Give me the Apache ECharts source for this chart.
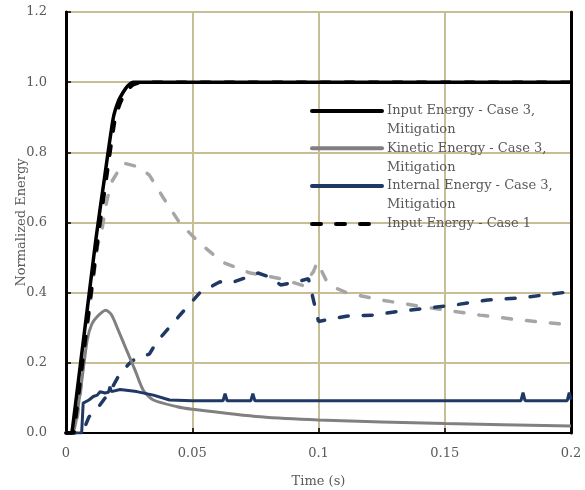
<!DOCTYPE html>
<html><head><meta charset="utf-8">
<script src="https://cdn.jsdelivr.net/npm/echarts@6/dist/echarts.min.js"></script>
<style>html,body{margin:0;padding:0;background:#fff}#c{width:585px;height:490px}</style>
</head><body><div id="c"></div><script>
// ---- data (time in s, normalized energy) ----
const inputCase3T = [0, 0.002, 0.0025, 0.0118, 0.0154, 0.0187, 0.0207, 0.0227, 0.0245, 0.0267, 0.2];
const inputCase3E = [0, 0, 0.009, 0.55, 0.735, 0.897, 0.945, 0.972, 0.99, 1.0, 1.0];

const inputCase1T = [0, 0.003, 0.0033, 0.0126, 0.0162, 0.0195, 0.0215, 0.0237, 0.0265, 0.03, 0.2];
const inputCase1E = [0, 0, 0.01, 0.55, 0.735, 0.897, 0.94, 0.972, 0.992, 1.0, 1.0];

const kineticCase3T = [0, 0.0025, 0.0055, 0.0084, 0.0102, 0.0124, 0.0157, 0.018, 0.0207, 0.024, 0.0273, 0.0306, 0.0346, 0.044, 0.05, 0.077, 0.1, 0.15, 0.2];
const kineticCase3E = [0, 0, 0.11, 0.265, 0.31, 0.332, 0.35, 0.337, 0.293, 0.236, 0.18, 0.122, 0.094, 0.075, 0.068, 0.046, 0.037, 0.027, 0.02];

const internalCase3T = [0, 0.0062, 0.0068, 0.0075, 0.0091, 0.0108, 0.0124, 0.0135, 0.0154, 0.0168, 0.0174, 0.018, 0.0214, 0.028, 0.0346, 0.041, 0.05, 0.0622, 0.063, 0.0638, 0.0732, 0.074, 0.0748, 0.1, 0.15, 0.1802, 0.181, 0.1818, 0.1985, 0.1993, 0.2];
const internalCase3E = [0, 0, 0.085, 0.086, 0.094, 0.104, 0.108, 0.118, 0.114, 0.116, 0.132, 0.118, 0.124, 0.118, 0.108, 0.094, 0.092, 0.092, 0.112, 0.092, 0.092, 0.112, 0.092, 0.092, 0.092, 0.092, 0.115, 0.092, 0.092, 0.115, 0.095];

const kineticCase1T = [0, 0.0035, 0.0051, 0.0078, 0.0105, 0.0124, 0.0141, 0.0161, 0.0181, 0.0226, 0.029, 0.033, 0.0384, 0.0451, 0.053, 0.062, 0.073, 0.085, 0.094, 0.098, 0.0995, 0.103, 0.106, 0.111, 0.124, 0.144, 0.164, 0.18, 0.2];
const kineticCase1E = [0, 0, 0.075, 0.265, 0.42, 0.531, 0.574, 0.66, 0.716, 0.77, 0.758, 0.735, 0.672, 0.598, 0.541, 0.487, 0.456, 0.44, 0.42, 0.46, 0.487, 0.436, 0.416, 0.40, 0.38, 0.357, 0.336, 0.322, 0.308];

const internalCase1T = [0, 0.005, 0.0075, 0.0091, 0.0124, 0.0174, 0.0214, 0.026, 0.03, 0.033, 0.036, 0.045, 0.053, 0.061, 0.065, 0.0717, 0.076, 0.081, 0.085, 0.091, 0.096, 0.098, 0.1, 0.103, 0.111, 0.1216, 0.131, 0.143, 0.153, 0.167, 0.18, 0.2];
const internalCase1E = [0, 0, 0.018, 0.046, 0.07, 0.118, 0.17, 0.205, 0.218, 0.225, 0.26, 0.335, 0.4, 0.431, 0.427, 0.444, 0.456, 0.444, 0.422, 0.43, 0.44, 0.379, 0.318, 0.322, 0.333, 0.336, 0.346, 0.356, 0.364, 0.379, 0.385, 0.403];

const legendNames = [
  'Input Energy - Case 3,\nMitigation',
  'Kinetic Energy - Case 3,\nMitigation',
  'Internal Energy - Case 3,\nMitigation',
  'Input Energy - Case 1'
];
const xTicks = [0, 0.05, 0.1, 0.15, 0.2];

const zip = (t, e) => t.map((v, i) => [v, e[i]]);
const FONT = 'DejaVu Serif';
const TXT = '#595959';
const NAVY = '#1f3864';

const chart = echarts.init(document.getElementById('c'), null, {renderer: 'canvas'});

function mkLegend(name, top, twoLine) {
  return {
    data: [name], left: 310, top: top, orient: 'vertical', padding: 0,
    itemWidth: 70, itemHeight: 14, itemGap: 0, selectedMode: false,
    itemStyle: {opacity: 0, borderWidth: 0},
    lineStyle: {width: 4, cap: 'round'},
    formatter: n => twoLine ? '\n' + n : n,
    textStyle: {fontFamily: FONT, fontSize: 13, color: TXT, lineHeight: 19}
  };
}

const option = {
  animation: false,
  backgroundColor: '#fff',
  grid: {left: 66, right: 14, top: 12, bottom: 57, show: true, borderColor: '#000', borderWidth: 2,
    containLabel: false, outerBoundsMode: 'none'},
  legend: [
    mkLegend(legendNames[0], 82.5, true),
    mkLegend(legendNames[1], 119.8, true),
    mkLegend(legendNames[2], 157.5, true),
    mkLegend(legendNames[3], 214.5, false)
  ],
  xAxis: {
    type: 'value', min: xTicks[0], max: xTicks[xTicks.length - 1], interval: 0.05,
    axisLine: {show: true, lineStyle: {color: '#000', width: 2}},
    axisTick: {show: true, inside: true, length: 5, lineStyle: {color: '#000', width: 1.5}},
    axisLabel: {color: TXT, fontFamily: FONT, fontSize: 13, margin: 14,
      formatter: v => String(+v.toFixed(2))},
    splitLine: {show: true, lineStyle: {color: '#c8be96', width: 2}},
    name: 'Time (s)', nameLocation: 'middle', nameGap: 42, nameMoveOverlap: false,
    nameTextStyle: {color: TXT, fontFamily: FONT, fontSize: 13}
  },
  yAxis: [{
    type: 'value', min: 0, max: 1.2, interval: 0.2,
    axisLine: {show: true, lineStyle: {color: '#000', width: 3}},
    axisTick: {show: true, inside: true, length: 5, lineStyle: {color: '#000', width: 1.5}},
    axisLabel: {color: TXT, fontFamily: FONT, fontSize: 13, margin: 19,
      formatter: v => v.toFixed(1)},
    splitLine: {show: true, lineStyle: {color: '#c8be96', width: 2}},
    name: 'Normalized Energy', nameLocation: 'middle', nameGap: 38, nameMoveOverlap: false,
    nameTextStyle: {color: TXT, fontFamily: FONT, fontSize: 13}
  }, {
    type: 'value', min: 0, max: 1.2, interval: 0.2, position: 'right',
    axisLine: {show: true, lineStyle: {color: '#000', width: 3}},
    axisTick: {show: false}, axisLabel: {show: false}, splitLine: {show: false}
  }],
  series: [
    {name: 'Kinetic Energy - Case 1', type: 'line', symbol: 'none', data: zip(kineticCase1T, kineticCase1E),
      lineStyle: {color: '#a6a6a6', width: 3.5, type: [9, 15], cap: 'round'}, itemStyle: {color: '#a6a6a6'}},
    {name: 'Internal Energy - Case 1', type: 'line', symbol: 'none', data: zip(internalCase1T, internalCase1E),
      lineStyle: {color: NAVY, width: 3.5, type: [9, 15], cap: 'round'}, itemStyle: {color: NAVY}},
    {name: legendNames[1], type: 'line', symbol: 'none', smooth: 0.25, data: zip(kineticCase3T, kineticCase3E),
      lineStyle: {color: '#808080', width: 3}, itemStyle: {color: '#808080'}},
    {name: legendNames[2], type: 'line', symbol: 'none', data: zip(internalCase3T, internalCase3E),
      lineStyle: {color: NAVY, width: 3}, itemStyle: {color: NAVY}},
    {name: legendNames[3], type: 'line', symbol: 'none', smooth: 0.2, data: zip(inputCase1T, inputCase1E),
      lineStyle: {color: '#000', width: 3.5, type: [9, 15], cap: 'round'}, itemStyle: {color: '#000'}},
    {name: legendNames[0], type: 'line', symbol: 'none', smooth: 0.2, data: zip(inputCase3T, inputCase3E),
      lineStyle: {color: '#000', width: 3.5}, itemStyle: {color: '#000'}}
  ]
};
chart.setOption(option);
</script></body></html>
